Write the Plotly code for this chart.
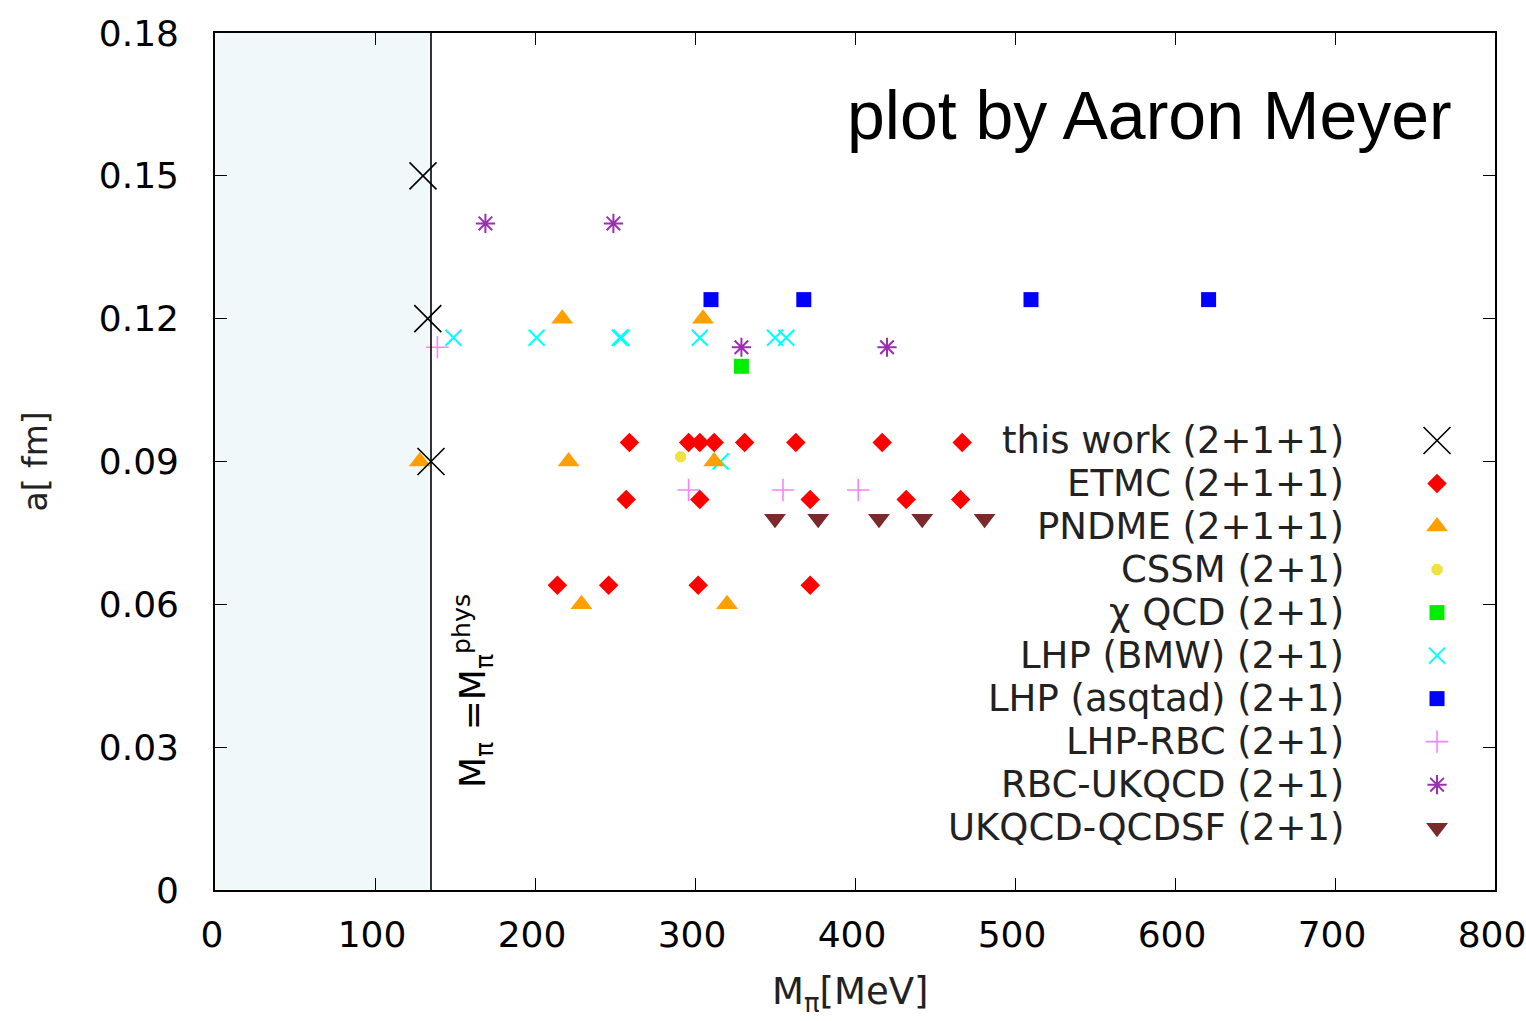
import plotly.graph_objects as go

# ---- data: lattice spacing a [fm] vs pion mass M_pi [MeV] ----
this_work_m = [130, 133, 135]
this_work_a = [0.15, 0.12, 0.09]

etmc_m = [259, 296, 303, 312, 331, 363, 417, 467,
          257, 303, 372, 432, 466,
          214, 246, 302, 372]
etmc_a = [0.094, 0.094, 0.094, 0.094, 0.094, 0.094, 0.094, 0.094,
          0.082, 0.082, 0.082, 0.082, 0.082,
          0.064, 0.064, 0.064, 0.064]

pndme_m = [217, 305, 128, 221, 312, 229, 320]
pndme_a = [0.12, 0.12, 0.09, 0.09, 0.09, 0.06, 0.06]

cssm_m = [291]
cssm_a = [0.091]

chiqcd_m = [329]
chiqcd_a = [0.11]

lhp_bmw_m = [149, 201, 253, 254, 303, 350, 357, 316]
lhp_bmw_a = [0.116, 0.116, 0.116, 0.116, 0.116, 0.116, 0.116, 0.09]

lhp_asqtad_m = [310, 368, 510, 621]
lhp_asqtad_a = [0.124, 0.124, 0.124, 0.124]

lhp_rbc_m = [139, 296, 355, 402]
lhp_rbc_a = [0.114, 0.084, 0.084, 0.084]

rbc_ukqcd_m = [169, 249, 329, 420]
rbc_ukqcd_a = [0.14, 0.14, 0.114, 0.114]

ukqcd_qcdsf_m = [350, 377, 415, 442, 481]
ukqcd_qcdsf_a = [0.078, 0.078, 0.078, 0.078, 0.078]

m_pi_phys = 135

x_ticks = [0, 100, 200, 300, 400, 500, 600, 700, 800]
y_ticks = [0, 0.03, 0.06, 0.09, 0.12, 0.15, 0.18]
y_tick_text = ["0", "0.03", "0.06", "0.09", "0.12", "0.15", "0.18"]

legend_labels = [
    "this work (2+1+1)", "ETMC (2+1+1)", "PNDME (2+1+1)", "CSSM (2+1)",
    "χ QCD (2+1)", "LHP (BMW) (2+1)", "LHP (asqtad) (2+1)", "LHP-RBC (2+1)",
    "RBC-UKQCD (2+1)", "UKQCD-QCDSF (2+1)",
]

# ---- marker styles per collaboration ----
styles = [
    dict(symbol="x-thin-open", size=27, color="black", line=dict(color="black", width=1.6)),
    dict(symbol="diamond", size=15, color="#ff0000", line=dict(width=0)),
    dict(symbol="triangle-up", size=19, color="#ffa000", line=dict(width=0)),
    dict(symbol="octagon", size=12, color="#f0e040", line=dict(width=0)),
    dict(symbol="square", size=15, color="#00ee00", line=dict(width=0)),
    dict(symbol="x-thin-open", size=16, color="#00ffff", line=dict(color="#00ffff", width=2)),
    dict(symbol="square", size=15, color="#0000ff", line=dict(width=0)),
    dict(symbol="cross-thin-open", size=16, color="#ff80ff", line=dict(color="#ff80ff", width=1.6)),
    dict(symbol="asterisk-open", size=16, color="#9a30b0", line=dict(color="#9a30b0", width=2)),
    dict(symbol="triangle-down", size=19, color="#7a2a2a", line=dict(width=0)),
]

series = [
    (this_work_m, this_work_a), (etmc_m, etmc_a), (pndme_m, pndme_a),
    (cssm_m, cssm_a), (chiqcd_m, chiqcd_a), (lhp_bmw_m, lhp_bmw_a),
    (lhp_asqtad_m, lhp_asqtad_a), (lhp_rbc_m, lhp_rbc_a),
    (rbc_ukqcd_m, rbc_ukqcd_a), (ukqcd_qcdsf_m, ukqcd_qcdsf_a),
]

fig = go.Figure()

# shaded region below the physical pion mass
fig.add_shape(type="rect", xref="x", yref="y", x0=0, x1=m_pi_phys, y0=0, y1=0.18,
              fillcolor="#f0f8fa", line=dict(width=0), layer="below")
fig.add_shape(type="line", xref="x", yref="y", x0=m_pi_phys, x1=m_pi_phys, y0=0, y1=0.18,
              line=dict(color="black", width=1.6))

# draw in reverse so that "this work" sits on top
for (mx, ay), st, name in reversed(list(zip(series, styles, legend_labels))):
    fig.add_trace(go.Scatter(x=mx, y=ay, mode="markers", name=name, showlegend=False,
                             marker=st, cliponaxis=False, hoverinfo="skip"))

# custom key: labels right-aligned, symbols to their right
key_top = 0.5245     # fraction of plot height of first entry
key_step = 0.0502    # spacing between entries
key_text_x = 0.8836
key_sym_x = 0.9547
for i, (name, st) in enumerate(zip(legend_labels, styles)):
    yk = key_top - i * key_step
    fig.add_trace(go.Scatter(x=[key_sym_x], y=[yk], xaxis="x2", yaxis="y2", mode="markers",
                             showlegend=False, marker=st, hoverinfo="skip"))
    fig.add_annotation(x=key_text_x, y=yk, xref="x2", yref="y2", text=name, showarrow=False,
                       xanchor="right", yanchor="middle",
                       font=dict(family="DejaVu Sans", size=37, color="#222222"))

fig.add_annotation(x=0.968, y=0.904, xref="paper", yref="paper", text="plot by Aaron Meyer",
                   showarrow=False, xanchor="right", yanchor="middle",
                   font=dict(family="Liberation Sans", size=68, color="black"))

fig.add_annotation(x=m_pi_phys, y=0.021, xref="x", yref="y",
                   text="M<sub>π</sub> =M<sub>π</sub><sup>phys</sup>", showarrow=False,
                   textangle=-90, xanchor="left", yanchor="bottom", xshift=14,
                   font=dict(family="DejaVu Sans", size=36, color="black"))

# axis titles
fig.add_annotation(x=0, y=0.5, xref="paper", yref="paper", text="a[ fm]", showarrow=False,
                   textangle=-90, xanchor="center", yanchor="middle", xshift=-180,
                   font=dict(family="DejaVu Sans", size=33, color="#222222"))
fig.add_annotation(x=0.5, y=0, xref="paper", yref="paper", text="M<sub>π</sub>[MeV]",
                   showarrow=False, xanchor="center", yanchor="middle", yshift=-104, xshift=-5,
                   font=dict(family="DejaVu Sans", size=37, color="#222222"))

axis_common = dict(showgrid=False, zeroline=False, showline=True, linecolor="black",
                   linewidth=1.6, mirror="ticks", ticks="inside", ticklen=12,
                   tickwidth=1.4, tickcolor="black", automargin=False,
                   ticklabeloverflow="allow",
                   tickfont=dict(family="DejaVu Sans", size=36, color="black"))

fig.update_layout(
    width=1526, height=1021,
    margin=dict(l=215, r=31, t=33, b=131),
    plot_bgcolor="white", paper_bgcolor="white",
    xaxis=dict(range=[0, 800], tickvals=x_ticks, ticklabelstandoff=12, ticklabelshift=-3,
               **axis_common),
    yaxis=dict(range=[0, 0.18], tickvals=y_ticks, ticktext=y_tick_text, ticklabelstandoff=27,
               **axis_common),
    xaxis2=dict(range=[0, 1], overlaying="x", visible=False, fixedrange=True),
    yaxis2=dict(range=[0, 1], overlaying="y", visible=False, fixedrange=True),
    showlegend=False,
)

fig.write_html("out.html")
